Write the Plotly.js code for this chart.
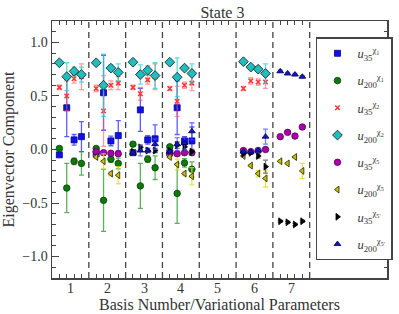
<!DOCTYPE html>
<html>
<head>
<meta charset="utf-8">
<script src="https://cdn.plot.ly/plotly-3.0.1.min.js"></script>
<style>html,body{margin:0;padding:0;background:#fff;}#chart{width:399px;height:314px;}</style>
</head>
<body>
<div id="chart"></div>
<script>
// Basis numbers (x tick labels) and the 4 variational parameters per basis
const basisNumbers = [1, 2, 3, 4, 5, 6, 7];
const tickLabels = ['1', '2', '3', '4', '5', '6', '7'];
const variationalParams = [1, 2, 3, 4];
const yTickVals = [-1.0, -0.5, 0.0, 0.5, 1.0];
const yTickText = ['\u22121.0', '\u22120.5', '0.0', '0.5', '1.0'];

// Series values: 7 basis groups x 4 variational parameters (null = not computed)
const u35chi1 = [-0.05, 0.39, 0.09, 0.12,  -0.04, 0.53, 0.08, 0.13,  -0.03, 0.37, 0.09, 0.10,  -0.03, 0.39, 0.08, 0.08,  null, null, null, null,  null, null, null, null,  null, null, null, null];
const u35chi1Err = [0.01, 0.27, 0.05, 0.14,  0.01, 0.35, 0.045, 0.14,  0.01, 0.20, 0.04, 0.13,  0.01, 0.25, 0.04, 0.13,  null, null, null, null,  null, null, null, null,  null, null, null, null];

const u200chi1 = [0.01, -0.36, -0.11, -0.13,  0.01, -0.475, -0.09, -0.13,  0.05, -0.34, -0.09, -0.17,  0.025, -0.41, -0.125, -0.185,  null, null, null, null,  null, null, null, null,  null, null, null, null];
const u200chi1Err = [0.01, 0.23, 0.03, 0.11,  0.01, 0.29, 0.03, 0.05,  0.01, 0.21, 0.03, 0.11,  0.01, 0.28, 0.04, 0.07,  null, null, null, null,  null, null, null, null,  null, null, null, null];

const u35chi2 = [0.58, 0.50, 0.66, 0.68,  0.57, 0.36, 0.60, 0.62,  0.58, 0.52, 0.65, 0.68,  0.57, 0.45, 0.60, 0.62,  null, null, null, null,  0.57, 0.64, 0.63, 0.63,  null, null, null, null];
const u35chi2Err = [0.02, 0.14, 0.04, 0.12,  0.03, 0.33, 0.04, 0.06,  0.02, 0.06, 0.04, 0.12,  0.02, 0.14, 0.03, 0.07,  null, null, null, null,  0.02, 0.03, 0.03, 0.06,  null, null, null, null];

const u200chi2 = [0.81, 0.68, 0.73, 0.70,  0.81, 0.60, 0.76, 0.72,  0.815, 0.70, 0.74, 0.69,  0.815, 0.675, 0.76, 0.71,  null, null, null, null,  0.82, 0.77, 0.75, 0.71,  null, null, null, null];
const u200chi2Err = [0.01, 0.13, 0.04, 0.07,  0.01, 0.29, 0.03, 0.08,  0.01, 0.09, 0.04, 0.12,  0.01, 0.18, 0.02, 0.09,  null, null, null, null,  0.01, 0.01, 0.01, 0.09,  null, null, null, null];

const u35chi5 = [null, null, null, null,  -0.02, -0.03, -0.035, -0.04,  null, null, null, null,  -0.04, -0.04, -0.03, -0.03,  null, null, null, null,  -0.01, -0.02, -0.01, 0.00,  0.12, 0.16, 0.125, 0.21];
const u35chi5Err = [null, null, null, null,  0.01, 0.01, 0.01, 0.01,  null, null, null, null,  0.01, 0.01, 0.01, 0.01,  null, null, null, null,  0.01, 0.01, 0.01, 0.01,  0.01, 0.01, 0.01, 0.02];

const u200chi5 = [null, null, null, null,  -0.07, -0.11, -0.225, -0.24,  null, null, null, null,  -0.07, -0.14, -0.225, -0.25,  null, null, null, null,  -0.06, -0.15, -0.225, -0.27,  -0.11, -0.13, -0.07, -0.20];
const u200chi5Err = [null, null, null, null,  0.01, 0.07, 0.02, 0.08,  null, null, null, null,  0.01, 0.05, 0.02, 0.08,  null, null, null, null,  0.01, 0.01, 0.03, 0.08,  0.01, 0.01, 0.01, 0.07];

const u35chi5p = [null, null, null, null,  null, null, null, null,  -0.02, 0.02, -0.01, -0.01,  -0.01, 0.04, 0.025, -0.02,  null, null, null, null,  -0.04, -0.03, -0.06, -0.16,  -0.67, -0.68, -0.70, -0.67];
const u35chi5pErr = [null, null, null, null,  null, null, null, null,  0.01, 0.02, 0.02, 0.02,  0.01, 0.03, 0.03, 0.02,  null, null, null, null,  0.01, 0.01, 0.02, 0.06,  0.01, 0.01, 0.01, 0.01];

const u200chi5p = [null, null, null, null,  null, null, null, null,  -0.03, -0.01, -0.01, 0.05,  -0.02, 0.05, 0.06, 0.17,  null, null, null, null,  -0.02, -0.02, -0.01, 0.12,  0.73, 0.71, 0.70, 0.68];
const u200chi5pErr = [null, null, null, null,  null, null, null, null,  0.01, 0.05, 0.02, 0.05,  0.01, 0.06, 0.06, 0.08,  null, null, null, null,  0.01, 0.01, 0.02, 0.07,  0.01, 0.01, 0.01, 0.01];

const seriesNames = [
  '<i>u</i><sub>35</sub><sup>\u03c7<sub>1</sub></sup>',
  '<i>u</i><sub>200</sub><sup>\u03c7<sub>1</sub></sup>',
  '<i>u</i><sub>35</sub><sup>\u03c7<sub>2</sub></sup>',
  '<i>u</i><sub>200</sub><sup>\u03c7<sub>2</sub></sup>',
  '<i>u</i><sub>35</sub><sup>\u03c7<sub>5</sub></sup>',
  '<i>u</i><sub>200</sub><sup>\u03c7<sub>5</sub></sup>',
  '<i>u</i><sub>35</sub><sup>\u03c7<sub>5\u2032</sub></sup>',
  '<i>u</i><sub>200</sub><sup>\u03c7<sub>5\u2032</sub></sup>'
];

// x position for each point: basis number plus a small offset per variational parameter
const xPos = [];
basisNumbers.forEach(b => variationalParams.forEach(p => xPos.push(+(b + (p - 2.5) * 0.2).toFixed(2))));

const styles = [
  {symbol: 'square', color: '#1010ee', line: '#00008b', size: 6, err: 'rgba(40,40,255,0.75)'},
  {symbol: 'circle', color: '#117711', line: '#004400', size: 6.5, err: 'rgba(40,150,40,0.75)'},
  {symbol: 'x-thin', color: '#ff3333', line: '#ff3333', size: 4.5, err: 'rgba(255,90,90,0.6)'},
  {symbol: 'diamond', color: '#1fbfbf', line: '#111111', size: 7.5, err: 'rgba(40,210,210,0.75)'},
  {symbol: 'circle', color: '#aa00aa', line: '#550055', size: 6.5, err: 'rgba(220,90,220,0.75)'},
  {symbol: 'triangle-left', color: '#c8c010', line: '#222200', size: 6, err: 'rgba(220,220,40,0.8)'},
  {symbol: 'triangle-right', color: '#000000', line: '#000000', size: 6, err: 'rgba(90,90,90,0.8)'},
  {symbol: 'triangle-up', color: '#1414cc', line: '#000044', size: 6, err: 'rgba(70,70,255,0.7)'}
];
const values = [u35chi1, u200chi1, u35chi2, u200chi2, u35chi5, u200chi5, u35chi5p, u200chi5p];
const errors = [u35chi1Err, u200chi1Err, u35chi2Err, u200chi2Err, u35chi5Err, u200chi5Err, u35chi5pErr, u200chi5pErr];

const traces = values.map((v, i) => ({
  type: 'scatter', mode: 'markers', x: xPos, y: v, name: seriesNames[i],
  legendgroup: 'g' + i,
  marker: {symbol: styles[i].symbol, color: styles[i].color, size: styles[i].size,
           line: {color: styles[i].line, width: styles[i].symbol === 'x-thin' ? 1.5 : 0.8}},
  error_y: {type: 'data', array: errors[i], visible: true, color: styles[i].err, thickness: 1.3, width: 2.5}
}));

const separators = basisNumbers.map(b => b + 0.5);
const shapes = separators.map(s => ({
  type: 'line', xref: 'x', yref: 'paper', x0: s, x1: s, y0: 0, y1: 1,
  line: {color: '#444', width: 1.3, dash: '6px,4px'}
}));

const FONT = 'Liberation Serif, DejaVu Serif, serif';
// x tick labels as annotations, placed at the basis numbers just below the axis
const tickAnnotations = basisNumbers.map((b, i) => ({
  xref: 'x', yref: 'paper', x: b, y: 0, yanchor: 'top', xanchor: 'center', yshift: -1,
  text: tickLabels[i], showarrow: false, font: {family: FONT, size: 14, color: '#333'}
}));

const layout = {
  width: 399, height: 314,
  margin: {l: 52, r: 6, t: 21, b: 36},
  paper_bgcolor: '#fff', plot_bgcolor: '#fff',
  font: {family: FONT, color: '#333', size: 14},
  title: {text: 'State 3', font: {family: FONT, size: 16, color: '#333'}, x: 0.5575, xanchor: 'center', y: 0.962, yanchor: 'middle'},
  showlegend: true,
  legend: {x: 0.788, y: 0.937, xanchor: 'left', yanchor: 'top', bgcolor: '#fff', bordercolor: '#444', borderwidth: 1.5,
           traceorder: 'grouped', tracegroupgap: 8, itemwidth: 30, font: {family: FONT, size: 12.5, color: '#333'}},
  xaxis: {
    range: [0.5, 9.6], tickmode: 'array', tickvals: basisNumbers, ticktext: tickLabels.map(() => ''),
    ticks: 'inside', ticklen: 0, showgrid: false, zeroline: false,
    showline: true, mirror: 'allticks', linecolor: '#444', linewidth: 1.5,
    tickfont: {family: FONT, size: 14, color: '#333'},
    minor: {tickmode: 'array', tickvals: xPos, ticks: 'inside', ticklen: 4, tickcolor: '#444', showgrid: false},
    title: {text: 'Basis Number/Variational Parameters', font: {family: FONT, size: 16, color: '#333'}, standoff: 17}
  },
  yaxis: {
    range: [-1.2, 1.2], tickmode: 'array', tickvals: yTickVals, ticktext: yTickText,
    ticks: 'inside', ticklen: 7, tickcolor: '#444', showgrid: false, zeroline: false,
    showline: true, mirror: 'allticks', linecolor: '#444', linewidth: 1.5,
    tickfont: {family: FONT, size: 14, color: '#333'},
    minor: {dtick: 0.1, tick0: 0, ticks: 'inside', ticklen: 3.5, tickcolor: '#444', showgrid: false},
    title: {text: 'Eigenvector Component', font: {family: FONT, size: 16, color: '#333'}, standoff: 6}
  },
  shapes: shapes,
  annotations: tickAnnotations
};

Plotly.newPlot('chart', traces, layout, {displayModeBar: false, staticPlot: true});
</script>
</body>
</html>
